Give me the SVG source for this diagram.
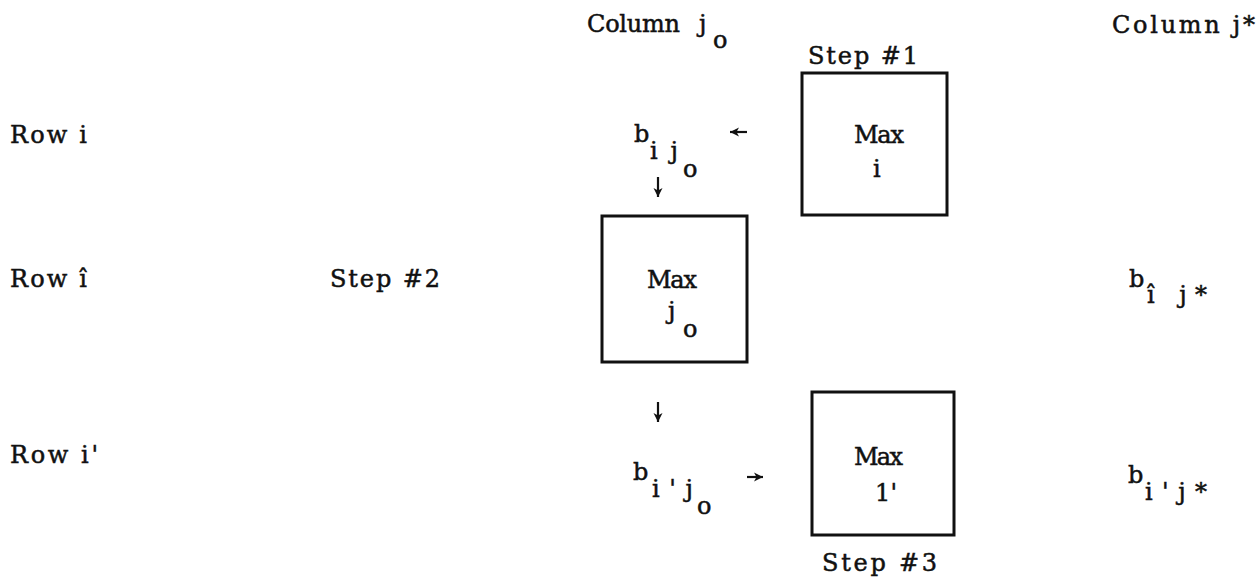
<svg xmlns="http://www.w3.org/2000/svg" width="1260" height="586" viewBox="0 0 1260 586">
<style>
text{font-family:"DejaVu Serif","Liberation Serif",serif;font-size:24px;fill:#111;stroke:#111;stroke-width:0.5}
.box{fill:none;stroke:#111;stroke-width:3}
.conn{stroke:#111;stroke-width:2.2;fill:none}
</style>
<defs>
<marker id="ah" markerUnits="userSpaceOnUse" markerWidth="11" markerHeight="10" refX="9" refY="5" orient="auto">
<path d="M0,0.5 L9,5 L0,9.5 L2.5,5 Z" fill="#111"/>
</marker>
</defs>
<rect width="1260" height="586" fill="#fff"/>

<g id="row-labels">
<text x="10" y="143" textLength="77" lengthAdjust="spacing">Row i</text>
<text x="10" y="287" textLength="77" lengthAdjust="spacing">Row î</text>
<text x="10" y="463" textLength="88" lengthAdjust="spacing">Row i'</text>
</g>

<g id="col-jo"><text x="587" y="32" textLength="93" lengthAdjust="spacing">Column</text><text x="699" y="32">j</text><text x="713" y="48">o</text></g>
<g id="col-jstar"><text x="1112" y="33" textLength="143" lengthAdjust="spacing">Column j*</text></g>

<g id="step1">
<text x="808" y="64" textLength="110" lengthAdjust="spacing">Step #1</text>
<rect class="box" x="802" y="73" width="145" height="142"/>
<text x="854" y="143" textLength="50" lengthAdjust="spacing">Max</text>
<text x="873" y="177">i</text>
</g>

<g id="b-ijo"><text x="634" y="142">b</text><text x="650" y="159" textLength="28" lengthAdjust="spacing">ij</text><text x="683" y="177">o</text></g>

<g id="step2">
<text x="330" y="287" textLength="110" lengthAdjust="spacing">Step #2</text>
<rect class="box" x="602" y="216" width="145" height="146"/>
<text x="647" y="288" textLength="50" lengthAdjust="spacing">Max</text>
<text x="668" y="319">j</text>
<text x="683" y="337">o</text>
</g>

<g id="b-ihat-jstar"><text x="1129" y="287">b</text><text x="1147" y="303" textLength="60" lengthAdjust="spacing">î j*</text></g>

<g id="step3">
<rect class="box" x="812" y="392" width="142" height="143"/>
<text x="854" y="465" textLength="49" lengthAdjust="spacing">Max</text>
<text x="875" y="501" textLength="22" lengthAdjust="spacing">1'</text>
<text x="822" y="571" textLength="115" lengthAdjust="spacing">Step #3</text>
</g>

<g id="b-iprime-jo"><text x="633" y="480">b</text><text x="652" y="497" textLength="41" lengthAdjust="spacing">i'j</text><text x="697" y="514">o</text></g>

<g id="b-iprime-jstar"><text x="1128" y="483">b</text><text x="1145" y="500" textLength="62" lengthAdjust="spacing">i'j*</text></g>

<g id="connectors">
<line class="conn" x1="747" y1="132" x2="730" y2="132" marker-end="url(#ah)"/>
<line class="conn" x1="658" y1="177" x2="658" y2="197" marker-end="url(#ah)"/>
<line class="conn" x1="658" y1="402" x2="658" y2="422" marker-end="url(#ah)"/>
<line class="conn" x1="747" y1="477" x2="763" y2="477" marker-end="url(#ah)"/>
</g>
</svg>
